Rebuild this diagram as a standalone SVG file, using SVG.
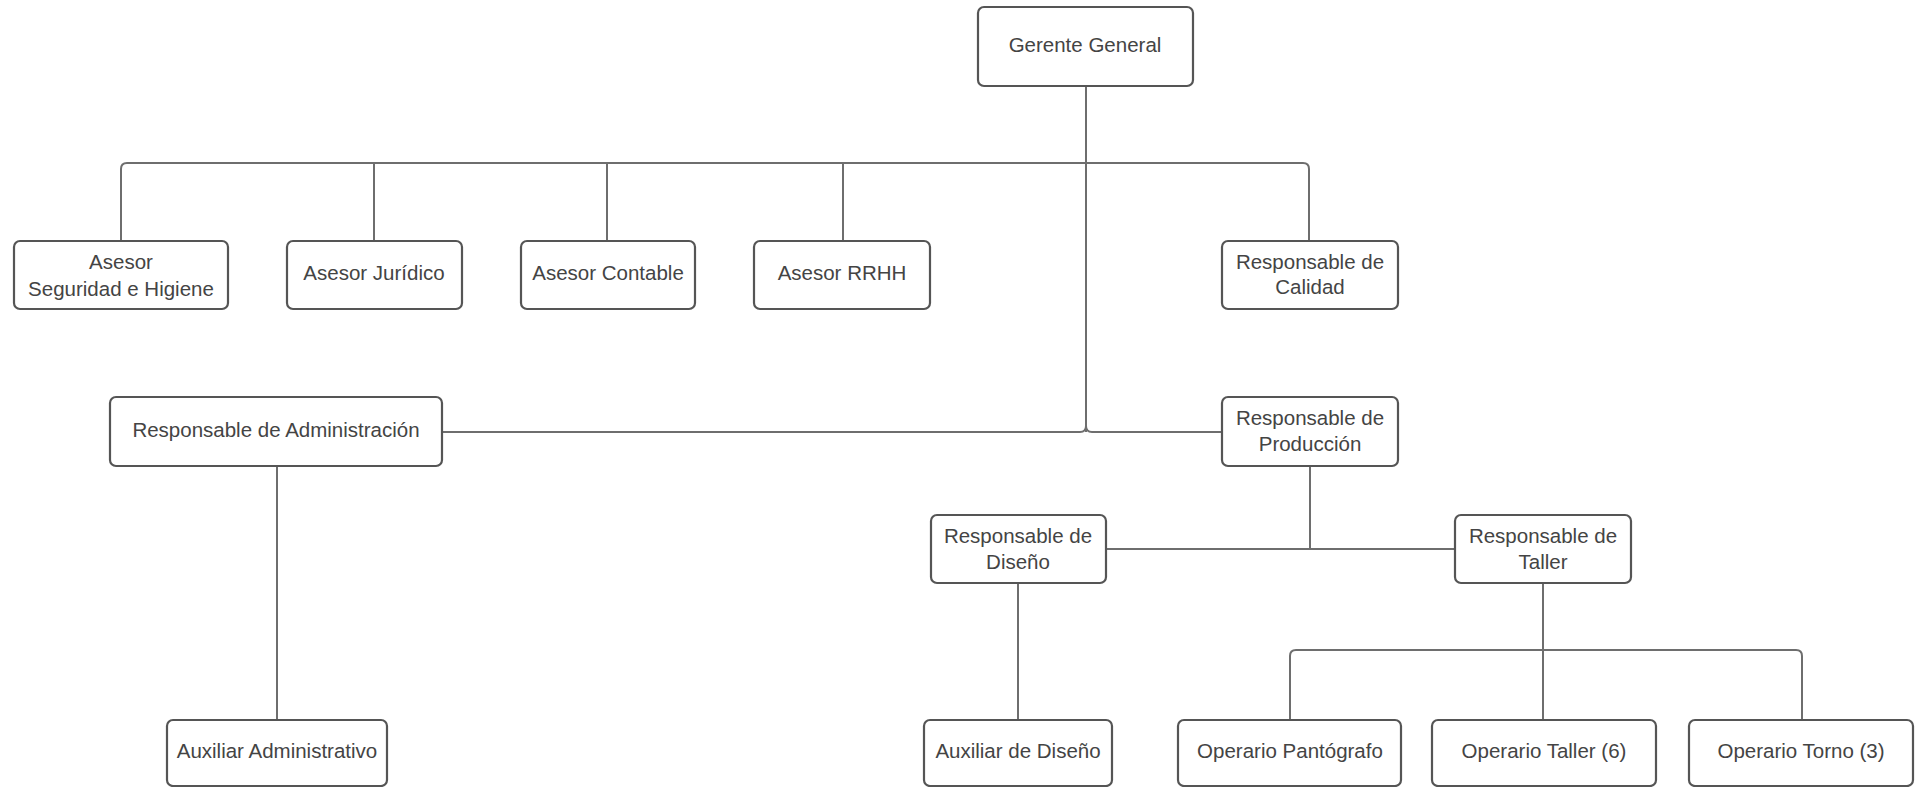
<svg xmlns="http://www.w3.org/2000/svg" width="1916" height="787" viewBox="0 0 1916 787">
<style>
.box{fill:#fff;stroke:#555;stroke-width:2.2}
.t{font-family:"Liberation Sans",Arial,sans-serif;font-size:20.5px;fill:#444;text-anchor:middle;dominant-baseline:central}
.c{fill:none;stroke:#6e6e6e;stroke-width:2}
</style>
<rect width="1916" height="787" fill="#fff"/>
<g id="connectors">
<path class="c" d="M1086 86 V432"/>
<path class="c" d="M121 240 V169 Q121 163 127 163 H1303 Q1309 163 1309 169 V240"/>
<path class="c" d="M374 163 V241 M607 163 V241 M843 163 V241"/>
<path class="c" d="M441 432 H1080 Q1086 432 1086 426 M1086 426 Q1086 432 1092 432 H1222"/>
<path class="c" d="M277 466 V720"/>
<path class="c" d="M1310 466 V549 M1106 549 H1454"/>
<path class="c" d="M1018 583 V720"/>
<path class="c" d="M1543 583 V720 M1290 720 V656 Q1290 650 1296 650 H1796 Q1802 650 1802 656 V720"/>
</g>
<g id="gerente"><rect class="box" x="978" y="7" width="215" height="79" rx="6"/><text class="t" x="1085" y="44">Gerente General</text></g>
<g id="asesor-seguridad"><rect class="box" x="14" y="241" width="214" height="68" rx="6"/><text class="t" x="121" y="261">Asesor</text><text class="t" x="121" y="288">Seguridad e Higiene</text></g>
<g id="asesor-juridico"><rect class="box" x="287" y="241" width="175" height="68" rx="6"/><text class="t" x="374" y="272">Asesor Jurídico</text></g>
<g id="asesor-contable"><rect class="box" x="521" y="241" width="174" height="68" rx="6"/><text class="t" x="608" y="272">Asesor Contable</text></g>
<g id="asesor-rrhh"><rect class="box" x="754" y="241" width="176" height="68" rx="6"/><text class="t" x="842" y="272">Asesor RRHH</text></g>
<g id="resp-calidad"><rect class="box" x="1222" y="241" width="176" height="68" rx="6"/><text class="t" x="1310" y="261">Responsable de</text><text class="t" x="1310" y="286">Calidad</text></g>
<g id="resp-admin"><rect class="box" x="110" y="397" width="332" height="69" rx="6"/><text class="t" x="276" y="429">Responsable de Administración</text></g>
<g id="resp-produccion"><rect class="box" x="1222" y="397" width="176" height="69" rx="6"/><text class="t" x="1310" y="417">Responsable de</text><text class="t" x="1310" y="443">Producción</text></g>
<g id="resp-diseno"><rect class="box" x="931" y="515" width="175" height="68" rx="6"/><text class="t" x="1018" y="535">Responsable de</text><text class="t" x="1018" y="561">Diseño</text></g>
<g id="resp-taller"><rect class="box" x="1455" y="515" width="176" height="68" rx="6"/><text class="t" x="1543" y="535">Responsable de</text><text class="t" x="1543" y="561">Taller</text></g>
<g id="aux-admin"><rect class="box" x="167" y="720" width="220" height="66" rx="6"/><text class="t" x="277" y="750">Auxiliar Administrativo</text></g>
<g id="aux-diseno"><rect class="box" x="924" y="720" width="188" height="66" rx="6"/><text class="t" x="1018" y="750">Auxiliar de Diseño</text></g>
<g id="op-pantografo"><rect class="box" x="1178" y="720" width="223" height="66" rx="6"/><text class="t" x="1290" y="750">Operario Pantógrafo</text></g>
<g id="op-taller"><rect class="box" x="1432" y="720" width="224" height="66" rx="6"/><text class="t" x="1544" y="750">Operario Taller (6)</text></g>
<g id="op-torno"><rect class="box" x="1689" y="720" width="224" height="66" rx="6"/><text class="t" x="1801" y="750">Operario Torno (3)</text></g>
</svg>
